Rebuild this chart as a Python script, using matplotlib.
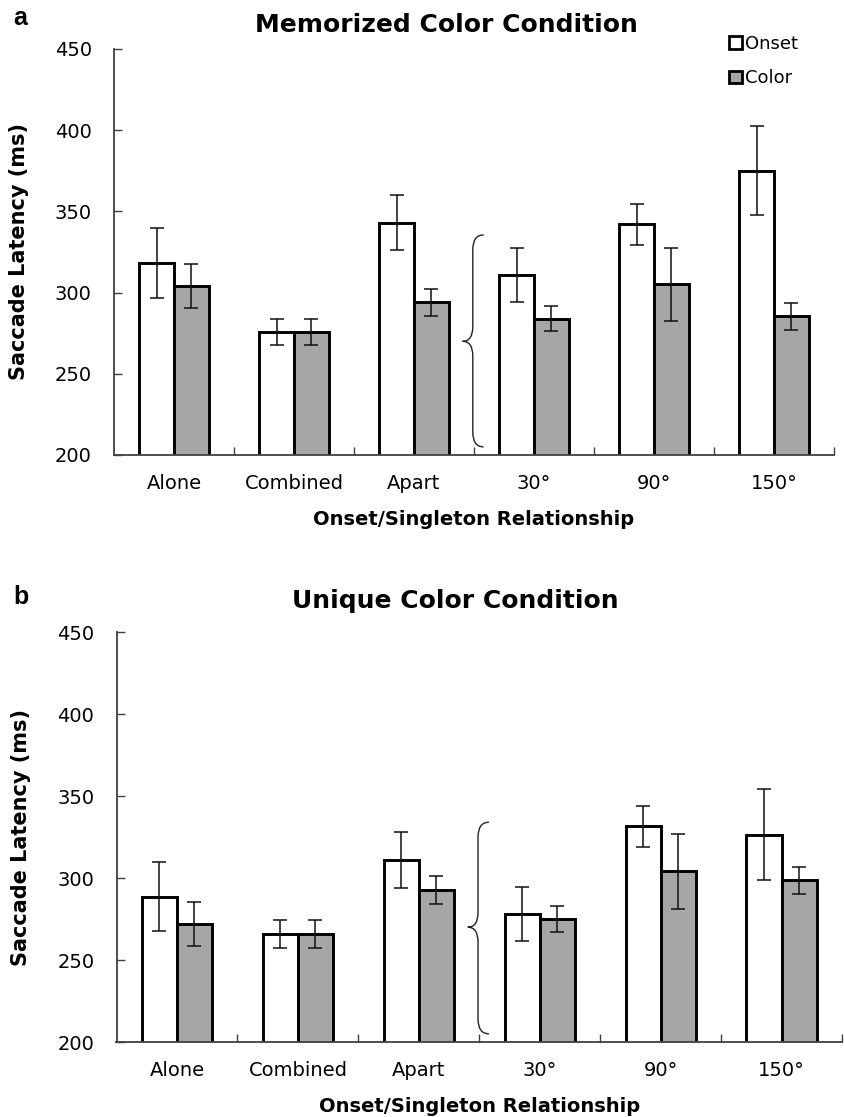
import matplotlib
matplotlib.use("Agg")
import matplotlib.pyplot as plt
from matplotlib.path import Path
from matplotlib.patches import PathPatch, Patch
import numpy as np

plt.rcParams['font.family'] = ['DejaVu Sans']

categories = ['Alone', 'Combined', 'Apart', '30°', '90°', '150°']
series_names = ['Onset', 'Color']

# Panel a: Memorized Color Condition
onset_a = [318, 276, 343, 311, 342, 375]
onset_a_err = [21.5, 8, 17, 16.5, 12.5, 27.5]
color_a = [304, 276, 294, 284, 305, 285.5]
color_a_err = [13.5, 8, 8.5, 7.5, 22.5, 8.3]

# Panel b: Unique Color Condition
onset_b = [288.5, 266, 311, 278, 331.5, 326.5]
onset_b_err = [21, 8.5, 17, 16.5, 12.5, 27.5]
color_b = [272, 266, 292.5, 275, 304, 298.5]
color_b_err = [13.5, 8.5, 8.5, 8, 22.8, 8.2]

y_ticks = [200, 250, 300, 350, 400, 450]

ONSET_FC = 'white'
COLOR_FC = '#a6a6a6'
AX_COL = '#404040'

fig = plt.figure(figsize=(8.44, 11.17), dpi=100)


def brace(ax, y_top, y_bot, y_tip, x_mid=2.49, x_end=2.58, x_tip=2.405, d=9):
    verts = [
        (x_end, y_top), (x_mid, y_top), (x_mid, y_top - d),
        (x_mid, y_tip + d),
        (x_mid, y_tip), (x_tip, y_tip),
        (x_mid, y_tip), (x_mid, y_tip - d),
        (x_mid, y_bot + d),
        (x_mid, y_bot), (x_end, y_bot),
    ]
    codes = [Path.MOVETO, Path.CURVE3, Path.CURVE3,
             Path.LINETO,
             Path.CURVE3, Path.CURVE3,
             Path.CURVE3, Path.CURVE3,
             Path.LINETO,
             Path.CURVE3, Path.CURVE3]
    ax.add_patch(PathPatch(Path(verts, codes), fill=False, lw=1.0,
                           edgecolor='#222222', zorder=5))


def panel(rect, onset, onset_err, color, color_err, title_xy, title,
          letter_xy, letter, brace_vals):
    ax = fig.add_axes(rect)
    x = np.arange(len(categories))
    w = 0.29
    ax.bar(x - w / 2, onset, w, color=ONSET_FC, edgecolor='black',
           linewidth=2.1, zorder=2)
    ax.bar(x + w / 2, color, w, color=COLOR_FC, edgecolor='black',
           linewidth=2.1, zorder=2)
    ax.errorbar(x - w / 2, onset, yerr=onset_err, fmt='none', ecolor='#111111',
                elinewidth=1.1, capsize=5, capthick=1.1, zorder=3)
    ax.errorbar(x + w / 2, color, yerr=color_err, fmt='none', ecolor='#111111',
                elinewidth=1.1, capsize=5, capthick=1.1, zorder=3)
    ax.set_ylim(200, 450)
    ax.set_xlim(-0.5, len(categories) - 0.5)
    ax.set_yticks(y_ticks)
    ax.set_yticklabels([str(v) for v in y_ticks], fontsize=14)
    # category labels at centres, tick marks at boundaries
    ax.set_xticks(x)
    ax.set_xticklabels(categories, fontsize=14)
    ax.tick_params(axis='x', length=0, pad=14)
    ax.set_xticks(np.arange(0.5, len(categories), 1.0), minor=True)
    ax.tick_params(axis='x', which='minor', direction='in', length=6,
                   width=1.0, color=AX_COL)
    ax.tick_params(axis='y', direction='in', length=6, width=1.0,
                   color=AX_COL, pad=16)
    for s in ['top', 'right']:
        ax.spines[s].set_visible(False)
    for s in ['left', 'bottom']:
        ax.spines[s].set_color(AX_COL)
        ax.spines[s].set_linewidth(1.3)
    ax.set_ylabel('Saccade Latency (ms)', fontsize=15, fontweight='bold')
    ax.yaxis.set_label_coords(-0.118, 0.5)
    ax.set_xlabel('Onset/Singleton Relationship', fontsize=14,
                  fontweight='bold', va='center')
    ax.xaxis.set_label_coords(0.5, -0.158)
    brace(ax, *brace_vals)
    fig.text(title_xy[0], title_xy[1], title, fontsize=18, fontweight='bold',
             ha='center', va='center')
    fig.text(letter_xy[0], letter_xy[1], letter, fontsize=18,
             fontweight='bold', ha='left', va='center',
             family='Liberation Sans')
    return ax


ax_a = panel([114 / 844, 1 - 455 / 1117, 720 / 844, 406 / 1117],
             onset_a, onset_a_err, color_a, color_a_err,
             (446 / 844, 1 - 25 / 1117), 'Memorized Color Condition',
             (13 / 844, 1 - 18 / 1117), 'a', (335.5, 205, 270))
ax_b = panel([116.5 / 844, 1 - 1042 / 1117, 725.5 / 844, 410 / 1117],
             onset_b, onset_b_err, color_b, color_b_err,
             (455 / 844, 1 - 601 / 1117), 'Unique Color Condition',
             (13 / 844, 1 - 597 / 1117), 'b', (334, 205, 270))

handles = [Patch(facecolor=ONSET_FC, edgecolor='black', linewidth=2.0),
           Patch(facecolor=COLOR_FC, edgecolor='black', linewidth=2.0)]
fig.legend(handles, series_names, loc='upper left',
           bbox_to_anchor=(729 / 844, 1 - 35 / 1117), frameon=False,
           fontsize=13, handlelength=0.7, handleheight=0.7,
           handletextpad=0.2, labelspacing=0.9, borderpad=0, borderaxespad=0)

fig.savefig('out.png', dpi=100)
